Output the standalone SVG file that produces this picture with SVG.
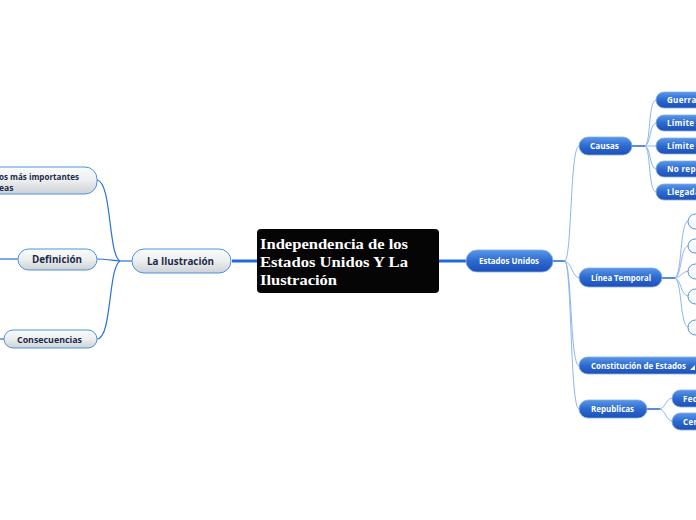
<svg xmlns="http://www.w3.org/2000/svg" width="696" height="520" viewBox="0 0 696 520">
<defs>
<linearGradient id="gGray" x1="0" y1="0" x2="0" y2="1">
<stop offset="0" stop-color="#fbfcfc"/><stop offset="0.5" stop-color="#eceeef"/><stop offset="1" stop-color="#cdd2d6"/>
</linearGradient>
<linearGradient id="gBlue" x1="0" y1="0" x2="0" y2="1">
<stop offset="0" stop-color="#5a97e6"/><stop offset="0.5" stop-color="#2d6ad0"/><stop offset="1" stop-color="#1d4fb6"/>
</linearGradient>
<linearGradient id="gWhite" x1="0" y1="0" x2="0" y2="1">
<stop offset="0" stop-color="#ffffff"/><stop offset="1" stop-color="#f1f5fb"/>
</linearGradient>
</defs>
<style>
.gray{fill:url(#gGray);stroke:#4b93da;stroke-width:1}
.blue{fill:url(#gBlue);stroke:#7fb0ec;stroke-width:0.8}
.empty{fill:url(#gWhite);stroke:#4b93da;stroke-width:1}
.gt{font-family:"Open Sans","Noto Sans",sans-serif;font-weight:bold;fill:#1b2b47}
.bt{font-family:"Open Sans","Noto Sans",sans-serif;font-weight:bold;fill:#ffffff;font-size:8px}
.ct{font-family:"Liberation Serif","DejaVu Serif",serif;font-weight:bold;fill:#ffffff;font-size:15.5px}
.main{fill:none;stroke:#1f6ad8;stroke-width:3}
.lc{fill:none;stroke:#2a72da;stroke-width:1.2}
.rc{fill:none;stroke:#8cb6ec;stroke-width:1}
.rj{fill:none;stroke:#2466d0;stroke-width:1.5}
</style>
<rect width="696" height="520" fill="#ffffff"/>
<g id="connectors">
<path class="main" d="M232 261 H257"/>
<path class="main" d="M439 261 H466"/>
<path class="lc" d="M132 261 H120"/>
<path class="lc" d="M120 261 C108 255 112 182 97 180"/>
<path class="lc" d="M120 261 C110 260 105 259 97 259"/>
<path class="lc" d="M120 261 C108 268 112 339 97 339"/>
<path class="lc" d="M18 259 H0"/>
<path class="lc" d="M4 339 H0"/>
<path class="rj" d="M553 261 H565"/>
<path class="rc" d="M565 261 C572 255 570 148 579 146"/>
<path class="rc" d="M565 261 C572 264 572 276 579 278"/>
<path class="rc" d="M565 261 C572 268 570 364 579 366"/>
<path class="rc" d="M565 261 C572 270 570 407 579 409"/>
<path class="rj" d="M632 146 H645"/>
<path class="rc" d="M645 146 C651 142 648 102 656 100"/>
<path class="rc" d="M645 146 C651 144 649 125 656 123"/>
<path class="rc" d="M645 146 H656"/>
<path class="rc" d="M645 146 C651 148 649 167 656 169"/>
<path class="rc" d="M645 146 C651 150 648 190 656 192"/>
<path class="rj" d="M662 278 H675"/>
<path class="rc" d="M675 278 C682 274 680 223 688 221"/>
<path class="rc" d="M675 278 C682 275 680 248 688 246"/>
<path class="rc" d="M675 278 C681 277 682 272 688 271"/>
<path class="rc" d="M675 278 C682 281 680 294 688 296"/>
<path class="rc" d="M675 278 C682 282 680 325 688 327"/>
<path class="rj" d="M647 409 H660"/>
<path class="rc" d="M660 409 C666 407 665 400 672 398"/>
<path class="rc" d="M660 409 C666 411 665 419 672 421"/>
</g>
<g id="center">
<rect x="257" y="229" width="182" height="64" rx="4" fill="#050505"/>
<text class="ct" x="260" y="249" textLength="148" lengthAdjust="spacingAndGlyphs">Independencia de los</text>
<text class="ct" x="260" y="267" textLength="148" lengthAdjust="spacingAndGlyphs">Estados Unidos Y La</text>
<text class="ct" x="260" y="285" textLength="77" lengthAdjust="spacingAndGlyphs">Ilustración</text>
</g>
<g id="n-ilustracion">
<rect class="gray" x="132" y="249" width="99" height="24" rx="12"/>
<text class="gt" x="147" y="265" font-size="10.5" textLength="67" lengthAdjust="spacingAndGlyphs">La Ilustración</text>
</g>
<g id="n-importantes">
<rect class="gray" x="-30" y="167" width="127" height="27" rx="12"/>
<text class="gt" x="-1" y="180" font-size="8.5" textLength="80" lengthAdjust="spacingAndGlyphs">os más importantes</text>
<text class="gt" x="-1" y="191" font-size="8.5">eas</text>
</g>
<g id="n-definicion">
<rect class="gray" x="18" y="249" width="79" height="21" rx="10.5"/>
<text class="gt" x="32" y="263" font-size="10" textLength="50" lengthAdjust="spacingAndGlyphs">Definición</text>
</g>
<g id="n-consecuencias">
<rect class="gray" x="4" y="330" width="93" height="18" rx="9"/>
<text class="gt" x="17" y="343" font-size="9" textLength="65" lengthAdjust="spacingAndGlyphs">Consecuencias</text>
</g>
<g id="n-estados">
<rect class="blue" x="466" y="250" width="87" height="22" rx="11"/>
<text class="bt" x="479" y="264" textLength="60" lengthAdjust="spacingAndGlyphs">Estados Unidos</text>
</g>
<g id="n-causas">
<rect class="blue" x="579" y="137" width="53" height="18" rx="9"/>
<text class="bt" x="590" y="149" textLength="29" lengthAdjust="spacingAndGlyphs">Causas</text>
</g>
<g id="n-guerra">
<rect class="blue" x="656" y="92" width="60" height="16" rx="8"/>
<text class="bt" x="667" y="103" letter-spacing="0.3">Guerra</text>
</g>
<g id="n-limite1">
<rect class="blue" x="656" y="115" width="60" height="16" rx="8"/>
<text class="bt" x="667" y="126" letter-spacing="0.3">Límite</text>
</g>
<g id="n-limite2">
<rect class="blue" x="656" y="138" width="60" height="16" rx="8"/>
<text class="bt" x="667" y="149" letter-spacing="0.3">Límite</text>
</g>
<g id="n-norep">
<rect class="blue" x="656" y="161" width="60" height="16" rx="8"/>
<text class="bt" x="667" y="172" letter-spacing="0.3">No repr</text>
</g>
<g id="n-llegada">
<rect class="blue" x="656" y="184" width="60" height="16" rx="8"/>
<text class="bt" x="667" y="195" letter-spacing="0.3">Llegada</text>
</g>
<g id="n-linea">
<rect class="blue" x="579" y="268" width="83" height="19" rx="9.5"/>
<text class="bt" x="591" y="281" textLength="60" lengthAdjust="spacingAndGlyphs">Línea Temporal</text>
</g>
<g id="n-t1"><rect class="empty" x="688" y="214" width="30" height="15" rx="7.5"/></g>
<g id="n-t2"><rect class="empty" x="688" y="239" width="30" height="14" rx="7"/></g>
<g id="n-t3"><rect class="empty" x="688" y="264" width="30" height="15" rx="7.5"/></g>
<g id="n-t4"><rect class="empty" x="688" y="289" width="30" height="15" rx="7.5"/></g>
<g id="n-t5"><rect class="empty" x="688" y="320" width="30" height="15" rx="7.5"/></g>
<g id="n-constitucion">
<rect class="blue" x="579" y="357" width="130" height="17" rx="8.5"/>
<text class="bt" x="591" y="369" textLength="95" lengthAdjust="spacingAndGlyphs">Constitución de Estados</text>
<path d="M690 370 L695 370 L695 365 Z" fill="#ffffff"/>
</g>
<g id="n-republicas">
<rect class="blue" x="579" y="400" width="68" height="18" rx="9"/>
<text class="bt" x="591" y="412" textLength="43" lengthAdjust="spacingAndGlyphs">Republicas</text>
</g>
<g id="n-fed">
<rect class="blue" x="672" y="390" width="50" height="17" rx="8.5"/>
<text class="bt" x="683" y="402" letter-spacing="0.3">Federal</text>
</g>
<g id="n-cen">
<rect class="blue" x="672" y="413" width="50" height="17" rx="8.5"/>
<text class="bt" x="683" y="425" letter-spacing="0.3">Central</text>
</g>
</svg>
